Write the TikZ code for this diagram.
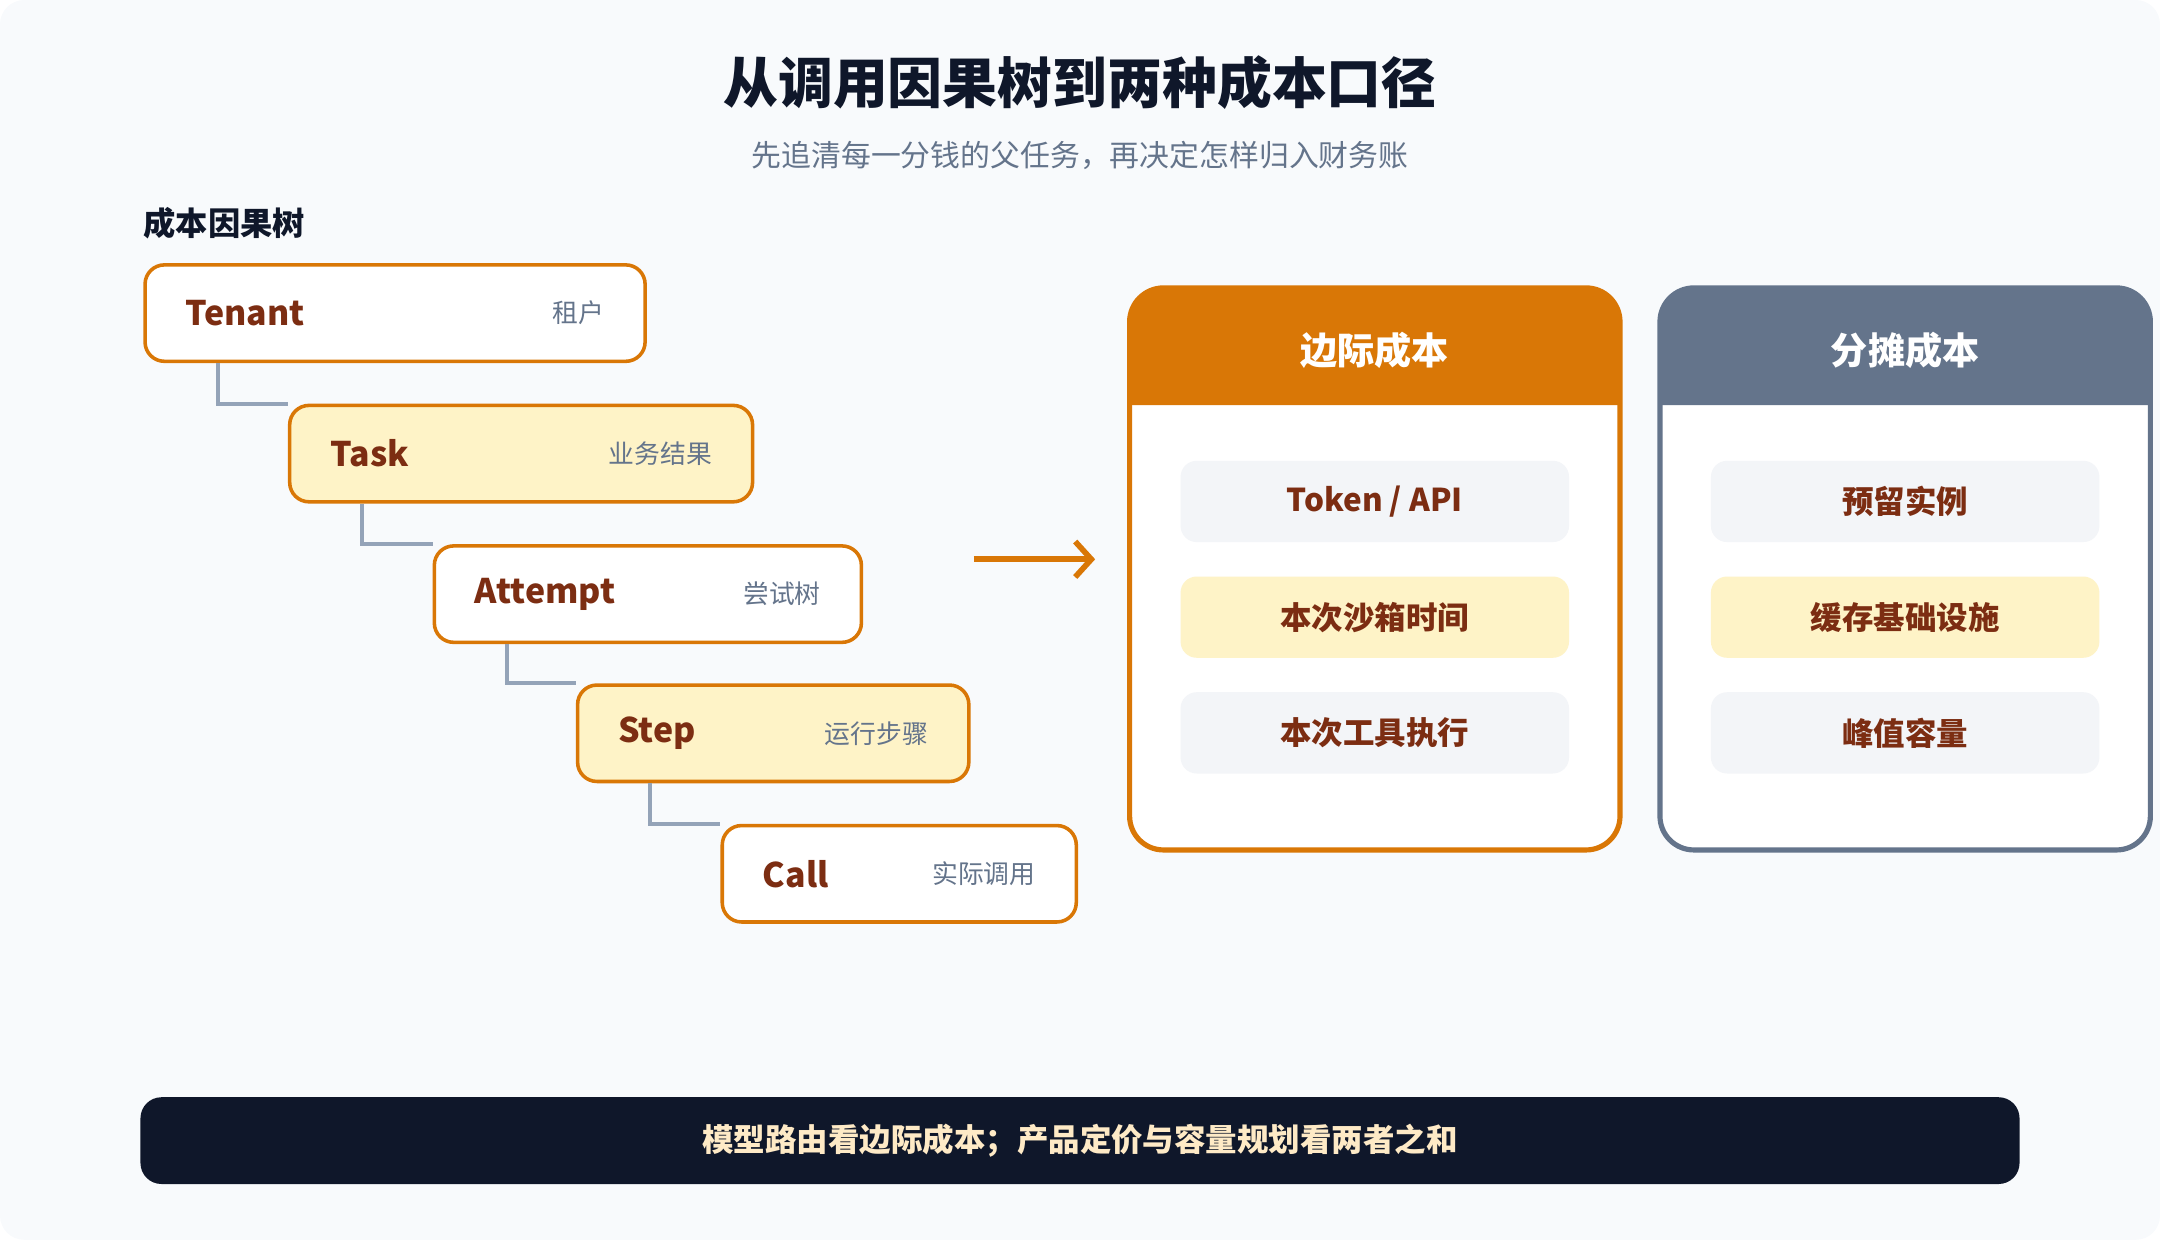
\documentclass[tikz,border=0pt]{standalone}
\usepackage{fontspec}
\setmainfont{Noto Sans CJK SC}
\usetikzlibrary{positioning, arrows.meta}
\definecolor{bgc}{HTML}{F8FAFC}
\definecolor{orng}{HTML}{D97706}
\definecolor{slate}{HTML}{64748B}
\definecolor{brn}{HTML}{7C2D12}
\definecolor{ylw}{HTML}{FEF3C7}
\definecolor{itm}{HTML}{F3F5F8}
\definecolor{grayt}{HTML}{64748B}
\definecolor{conn}{HTML}{94A3B8}
\definecolor{navy}{HTML}{0F172A}
\definecolor{ink}{HTML}{0F172A}
\tikzset{
x=0.03cm, y=-0.03cm, % one unit is one pixel of the reference
level/.style={draw=orng, line width=2.2pt, rounded corners=12pt, minimum height=2.1cm, anchor=north west, inner sep=0pt},
name text/.style={font=\fontsize{21}{24}\selectfont\bfseries, text=brn, anchor=west},
role text/.style={font=\fontsize{16}{19}\selectfont, text=grayt, anchor=east},
link/.style={draw=conn, line width=2.6pt},
item/.style={minimum width=8.46cm, minimum height=1.77cm, rounded corners=10pt, font=\fontsize{19.5}{22}\selectfont\bfseries, text=brn, inner sep=0pt},
head text/.style={font=\fontsize{23}{26}\selectfont\bfseries, text=white},
}
\begin{document}
\begin{tikzpicture}
\fill[bgc, rounded corners=15pt] (0,0) rectangle (1568,900);
\useasboundingbox (0,0) rectangle (1568,900);

% titles
\node[font=\fontsize{34}{40}\selectfont\bfseries, text=ink] (title) at (784,60) {从调用因果树到两种成本口径};
\node[font=\fontsize{18.5}{22}\selectfont, text=grayt] (subtitle) at (784,113) {先追清每一分钱的父任务，再决定怎样归入财务账};
\node[font=\fontsize{20}{24}\selectfont\bfseries, text=ink, anchor=west] (treetitle) at (100,162) {成本因果树};

% cost tree
\node[level, fill=white, minimum width=10.89cm] (tenant) at (104,191) {};
\node[level, fill=ylw, minimum width=10.08cm] (task) at (209,293) {};
\node[level, fill=white, minimum width=9.3cm] (attempt) at (314,395) {};
\node[level, fill=ylw, minimum width=8.52cm] (step) at (418,496) {};
\node[level, fill=white, minimum width=7.71cm] (call) at (523,598) {};
\foreach \n/\a/\b in {tenant/Tenant/租户, task/Task/业务结果, attempt/Attempt/尝试树, step/Step/运行步骤, call/Call/实际调用}{
  \node[name text] (\n-name) at ([xshift=0.8cm]\n.west) {\a};
  \node[role text] (\n-role) at ([xshift=-0.8cm]\n.east) {\b};
}
\foreach \p/\c in {tenant/task, task/attempt, attempt/step, step/call}
  \draw[link] ([xshift=1.62cm]\p.south west) |- (\c.north west);

% arrow
\coordinate (arrow-a) at (707,406);
\coordinate (arrow-b) at (795,406);
\draw[orng, line width=3.5pt, -{Straight Barb[length=10pt, width=22pt]}] (arrow-a) -- (arrow-b);

% marginal cost panel
\fill[white, rounded corners=21pt] (820,209) rectangle (1176,617);
\fill[orng] (820,294) [rounded corners=21pt] -- (820,209) -- (1176,209) [sharp corners] -- (1176,294) -- cycle;
\draw[orng, line width=3.2pt, rounded corners=21pt] (820,209) rectangle (1176,617);
\node[head text] (marginal) at (998,254) {边际成本};
\node[item, fill=itm] (m1) at (998,364) {Token / API};
\node[item, fill=ylw] (m2) at (998,448) {本次沙箱时间};
\node[item, fill=itm] (m3) at (998,532) {本次工具执行};

% allocated cost panel
\fill[white, rounded corners=21pt] (1205,209) rectangle (1561,617);
\fill[slate] (1205,294) [rounded corners=21pt] -- (1205,209) -- (1561,209) [sharp corners] -- (1561,294) -- cycle;
\draw[slate, line width=3.2pt, rounded corners=21pt] (1205,209) rectangle (1561,617);
\node[head text] (shared) at (1383,254) {分摊成本};
\node[item, fill=itm] (s1) at (1383,364) {预留实例};
\node[item, fill=ylw] (s2) at (1383,448) {缓存基础设施};
\node[item, fill=itm] (s3) at (1383,532) {峰值容量};

% bottom note
\node[fill=navy, rounded corners=13pt, minimum width=40.92cm, minimum height=1.89cm,
  font=\fontsize{19.5}{22}\selectfont\bfseries, text=ylw!80!orange!60!white] (note) at (784,828) {模型路由看边际成本；产品定价与容量规划看两者之和};
\end{tikzpicture}
\end{document}
